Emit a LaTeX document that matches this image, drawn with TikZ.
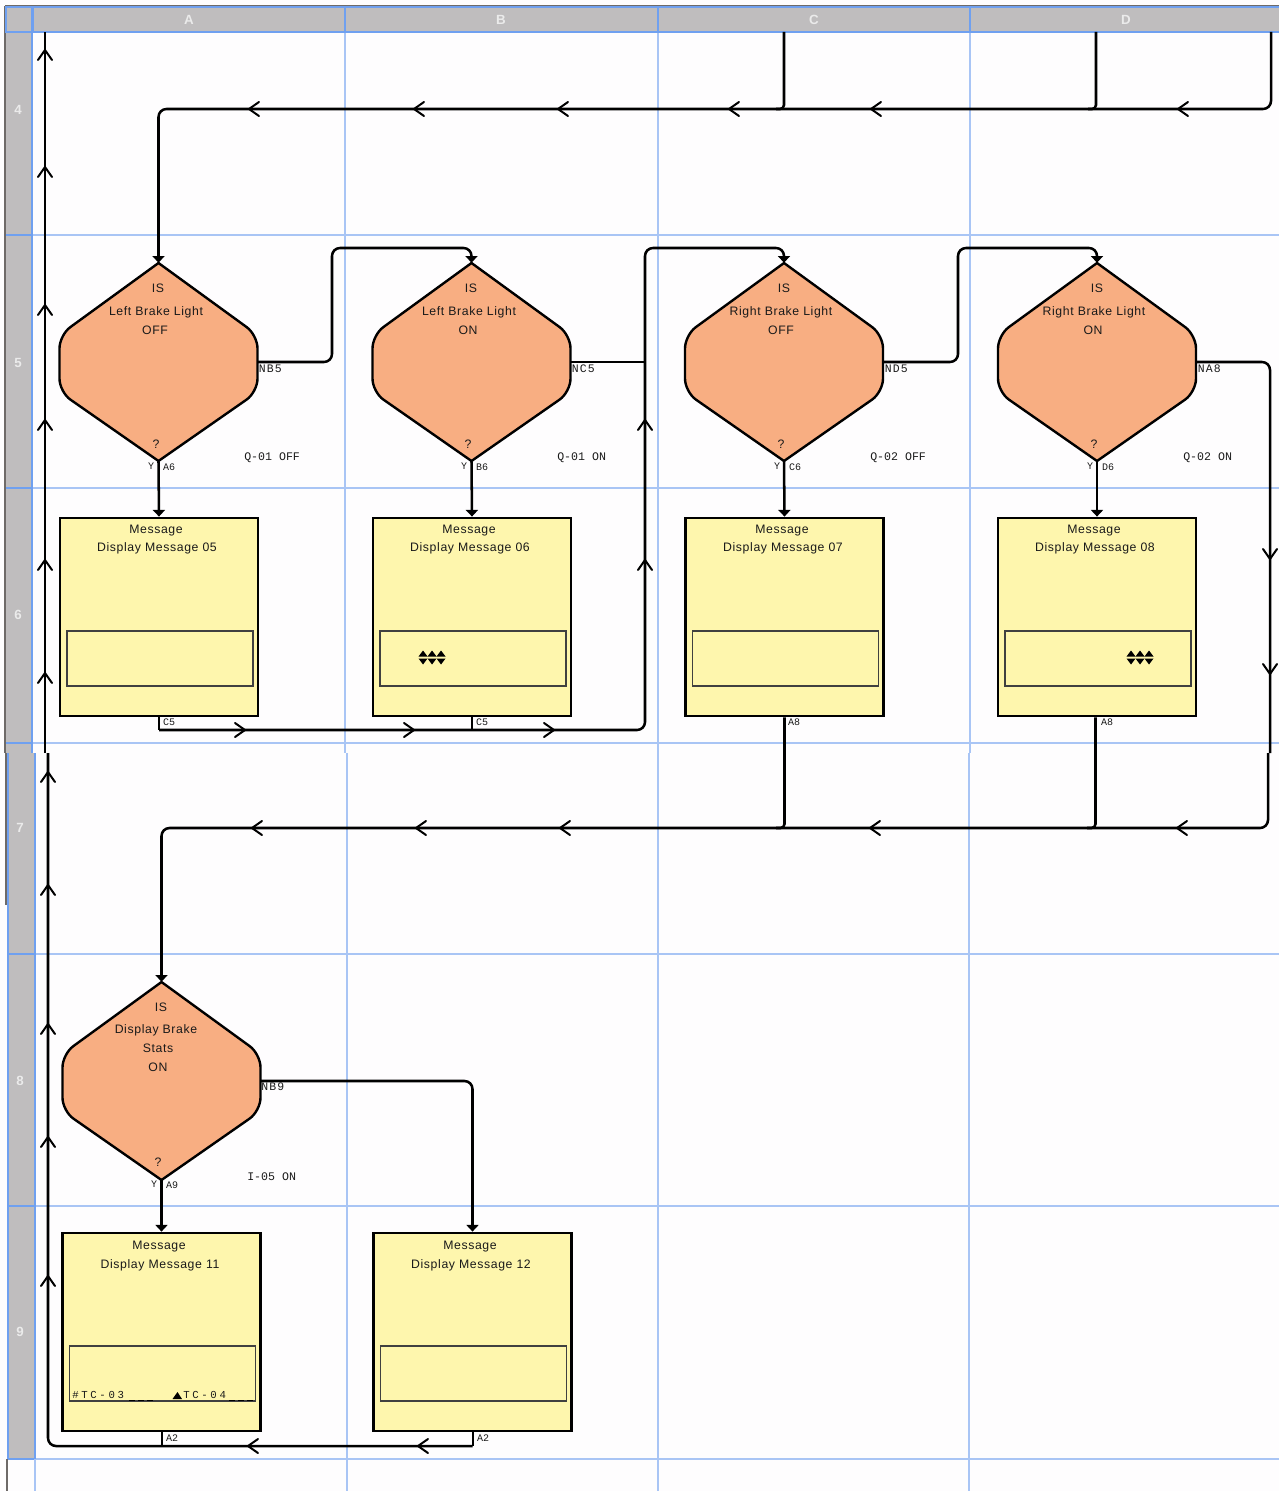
\documentclass[tikz,border=0pt]{standalone}
\usepackage{fontspec}
\setmainfont{Liberation Sans}
\newfontfamily\msgfont[LetterSpace=5]{Liberation Sans}
\newfontfamily\tagfont{Liberation Mono}
\newfontfamily\nbfont[LetterSpace=10]{Liberation Mono}
\newfontfamily\slotfont[LetterSpace=25]{Liberation Mono}
\usetikzlibrary{arrows.meta}
\definecolor{sheet}{HTML}{FEFDFE}
\definecolor{bandgrey}{HTML}{BFBDBE}
\definecolor{gridblue}{HTML}{A9C5F5}
\definecolor{gridstrong}{HTML}{6FA0F0}
\definecolor{peach}{HTML}{F8AE82}
\definecolor{pale}{HTML}{FEF6AD}
\definecolor{edge}{HTML}{6E6A68}
\definecolor{ink}{HTML}{1A1A1A}
\tikzset{
  x=0.75pt,y=-0.75pt,
  band/.style={fill=bandgrey,draw=none},
  grid/.style={draw=gridblue,line width=0.8pt},
  gridb/.style={draw=gridstrong,line width=1.3pt},
  wire/.style={draw=black,line width=1.9pt,rounded corners=6pt},
  stem/.style={draw=black,line width=1.5pt},
  into/.style={wire,-{Triangle[width=9pt,length=5pt]}},
  chev/.style={draw=black,line width=1.5pt,line cap=round},
  decision/.style={fill=peach,draw=black,line width=1.8pt,line join=miter},
  anchorbox/.style={inner sep=0pt,minimum width=148.5pt,minimum height=148.5pt},
  msgbox/.style={anchorbox,fill=pale,draw=black,line width=2.1pt},
  slot/.style={fill=pale,draw=black!75,line width=0.8pt},
  msgtext/.style={font=\msgfont\fontsize{9.2pt}{10pt}\selectfont,text=ink,inner sep=0pt},
  tagtext/.style={font=\tagfont\fontsize{7.5pt}{8pt}\selectfont,text=ink,inner sep=0pt},
  nbtext/.style={font=\nbfont\fontsize{8.6pt}{9pt}\selectfont,text=ink,inner sep=0pt},
  qtext/.style={font=\tagfont\fontsize{8.7pt}{9pt}\selectfont,text=ink,inner sep=0pt},
  slottext/.style={font=\slotfont\fontsize{8pt}{9pt}\selectfont,text=ink,inner sep=0pt},
  headtext/.style={font=\bfseries\fontsize{10pt}{10pt}\selectfont,text=white!92!black,inner sep=0pt},
}
\newcounter{tn}
\newcommand\lbl[4]{\stepcounter{tn}\node[#1] (t\arabic{tn}) at (#2,#3) {#4};}
\newcommand\chL[2]{\draw[chev] (#1+10,#2-7) -- (#1,#2) -- (#1+10,#2+7);}
\newcommand\chR[2]{\draw[chev] (#1-10,#2-7) -- (#1,#2) -- (#1-10,#2+7);}
\newcommand\chU[2]{\draw[chev] (#1-7,#2+10) -- (#1,#2) -- (#1+7,#2+10);}
\newcommand\chD[2]{\draw[chev] (#1-7,#2-10) -- (#1,#2) -- (#1+7,#2-10);}
% name, centre x, centre y
\newcommand\dia[3]{
  \draw[decision] (#2,#3-99) [rounded corners=10pt] -- (#2+99,#3-27) -- (#2+99,#3+30)
     [sharp corners] -- (#2,#3+99) [rounded corners=10pt]
     -- (#2-99,#3+30) -- (#2-99,#3-27) [sharp corners] -- cycle;
  \node[anchorbox] (#1) at (#2,#3) {};
}
% name, centre x, centre y
\newcommand\msg[3]{
  \node[msgbox] (#1) at (#2,#3) {};
  \draw[slot] (#2-92,#3+14) rectangle (#2+94,#3+69);
}
% little up/down triangle pair
\newcommand\updn[2]{
  \fill (#1-4.5,#2-1) -- (#1,#2-7) -- (#1+4.5,#2-1) -- cycle;
  \fill (#1-4.5,#2+1) -- (#1,#2+7) -- (#1+4.5,#2+1) -- cycle;
}
\begin{document}
\begin{tikzpicture}
\useasboundingbox (0,0) rectangle (1279,1491);
\fill[sheet] (0,0) rectangle (1279,1491);
% ===== top sheet bands
\fill[band] (6,7) rectangle (1279,32);
\fill[band] (6,32) rectangle (32,753);
\draw[edge,line width=0.8pt] (5,6) -- (1279,6);
\draw[edge,line width=0.8pt] (5,6) -- (5,753);
% top sheet grid
\foreach \yy in {235,743} \draw[grid] (6,\yy) -- (1279,\yy);
\draw[grid,line width=1.2pt] (6,488) -- (1279,488);
\foreach \xx in {345,658,970} {\draw[grid] (\xx,32) -- (\xx,753); \draw[gridb] (\xx,7) -- (\xx,32);}
\draw[gridb] (6,32) -- (1279,32);
\draw[gridb] (33,7) -- (1279,7);
\draw[gridb] (6,7) rectangle (32,32);
\draw[gridb,line width=2pt] (32.5,7) -- (32.5,32);
\draw[gridb] (32,32) -- (32,753);
\draw[gridb] (6,235) -- (32,235);
\draw[gridb] (6,488) -- (32,488);
\draw[gridb] (6,743) -- (32,743);
% ===== bottom sheet
\fill[sheet] (0,753) rectangle (1279,1491);
\fill[band] (8,753) rectangle (34,1459);
\draw[edge,line width=0.8pt] (6,753) -- (6,905);
\draw[edge,line width=0.8pt] (7,1459) -- (7,1491);
\foreach \yy in {954,1206} \draw[grid] (34,\yy) -- (1279,\yy);
\draw[gridb] (8,954) -- (34,954);
\draw[gridb] (8,1206) -- (34,1206);
\draw[grid,line width=1.2pt] (34,1459) -- (1279,1459);
\draw[gridb] (8,1459) -- (34,1459);
\foreach \xx in {347,658,969} \draw[grid] (\xx,753) -- (\xx,1491);
\draw[grid] (35,1459) -- (35,1491);
\draw[gridb] (35,753) -- (35,1459);
\draw[gridb] (8,753) -- (8,1459);
% headers
\lbl{headtext}{189}{19.5}{A}
\lbl{headtext}{501}{19.5}{B}
\lbl{headtext}{814}{19.5}{C}
\lbl{headtext}{1126}{19.5}{D}
\lbl{headtext}{18}{110}{4}
\lbl{headtext}{18}{363}{5}
\lbl{headtext}{18}{615}{6}
\lbl{headtext}{20}{828}{7}
\lbl{headtext}{20}{1081}{8}
\lbl{headtext}{20}{1332}{9}
% ===== shapes
\dia{d1}{158.5}{362}
\dia{d2}{471.5}{362}
\dia{d3}{784}{362}
\dia{d4}{1097}{362}
\dia{d5}{161.5}{1081}
\msg{m1}{159}{617}
\msg{m2}{472}{617}
\msg{m3}{784.5}{617}
\msg{m4}{1097}{617}
\msg{m5}{161.5}{1332}
\msg{m6}{472.5}{1332}
% ===== free ends
\coordinate (topC) at (784,32);
\coordinate (topD) at (1096,32);
\coordinate (topE) at (1271,32);
\coordinate (topL) at (45,32);
\coordinate (seamL) at (45,753);
\coordinate (seamL2) at (48,753);
\coordinate (seamR) at (1270,753);
\coordinate (seamR2) at (1268,753);
\coordinate (joinA) at (159,730);
\coordinate (joinB) at (472,730);
\coordinate (joinC) at (472.5,1446);
\coordinate (joinD) at (161.5,1446);
% ===== wires, top sheet
\draw[into] (topE) -- (1271,109) -- (158.5,109) -- (d1.north);
\draw[wire,rounded corners=3pt] (topC) -- (784,109) -- (776,109);
\draw[wire,rounded corners=3pt] (topD) -- (1096,109) -- (1088,109);
\draw[wire] (seamL) -- (topL);
\draw[into] (d1.east) -- (332,362) -- (332,248) -- (471.5,248) -- (d2.north);
\draw[wire] (d2.east) -- (645,362);
\draw[stem] (m1.south) -- (joinA);
\draw[stem] (m2.south) -- (joinB);
\draw[into] (joinA) -- (645,730) -- (645,248) -- (784,248) -- (d3.north);
\draw[into] (d3.east) -- (958,362) -- (958,248) -- (1097,248) -- (d4.north);
\draw[wire] (d4.east) -- (1270,362) -- (seamR);
\foreach \a/\b in {d1/m1,d2/m2,d3/m3,d4/m4,d5/m5} \draw[into] (\a.south) -- (\b.north);
% ===== wires, bottom sheet
\draw[into] (seamR2) -- (1268,828) -- (161.5,828) -- (d5.north);
\draw[wire,rounded corners=3pt] (m3.south) -- (784.5,828) -- (776,828);
\draw[wire,rounded corners=3pt] (m4.south) ++(-1.5,0) -- (1095.5,828) -- (1087,828);
\draw[wire] (seamL2) -- (48,1446) -- (joinC);
\draw[stem] (m6.south) -- (joinC);
\draw[stem] (m5.south) -- (joinD);
\draw[into] (d5.east) -- (472.5,1081) -- (m6.north);
% ===== chevrons
\foreach \xx in {1178,871,729,558,414,249} {\chL{\xx}{109}}
\foreach \xx in {1177,870,560,416,252} {\chL{\xx}{828}}
\foreach \xx in {418,248} {\chL{\xx}{1446}}
\foreach \yy in {50,167,305,420,560,673} {\chU{45}{\yy}}
\foreach \yy in {772,885,1024,1137,1276} {\chU{48}{\yy}}
\foreach \yy in {420,560} {\chU{645}{\yy}}
\foreach \xx in {245,414,554} {\chR{\xx}{730}}
\foreach \yy in {559,674} {\chD{1270}{\yy}}
% ===== decision text
\lbl{msgtext}{158}{288}{IS}
\lbl{msgtext}{156}{312.5}{Left Brake Light}
\lbl{msgtext}{155}{330}{OFF}
\lbl{msgtext}{156}{444}{?}
\lbl{msgtext}{471}{288}{IS}
\lbl{msgtext}{469}{312.5}{Left Brake Light}
\lbl{msgtext}{468}{330}{ON}
\lbl{msgtext}{468}{444}{?}
\lbl{msgtext}{784}{288}{IS}
\lbl{msgtext}{781}{312.5}{Right Brake Light}
\lbl{msgtext}{781}{330}{OFF}
\lbl{msgtext}{781}{444}{?}
\lbl{msgtext}{1097}{288}{IS}
\lbl{msgtext}{1094}{312.5}{Right Brake Light}
\lbl{msgtext}{1093}{330}{ON}
\lbl{msgtext}{1094}{444}{?}
\lbl{msgtext}{161}{1007}{IS}
\lbl{msgtext}{156}{1030}{Display Brake}
\lbl{msgtext}{158}{1048}{Stats}
\lbl{msgtext}{158}{1067}{ON}
\lbl{msgtext}{158}{1162}{?}
% ===== message text
\lbl{msgtext}{156}{530.5}{Message}
\lbl{msgtext}{157}{548.5}{Display Message 05}
\lbl{msgtext}{469}{530.5}{Message}
\lbl{msgtext}{470}{548.5}{Display Message 06}
\lbl{msgtext}{782}{530.5}{Message}
\lbl{msgtext}{783}{548.5}{Display Message 07}
\lbl{msgtext}{1094}{530.5}{Message}
\lbl{msgtext}{1095}{548.5}{Display Message 08}
\lbl{msgtext}{159}{1247}{Message}
\lbl{msgtext}{160}{1265}{Display Message 11}
\lbl{msgtext}{470}{1247}{Message}
\lbl{msgtext}{471}{1265}{Display Message 12}
% ===== tags
\foreach \xx/\a/\b/\c in {158/A6/NB5/Q-01 OFF,471/B6/NC5/Q-01 ON,784/C6/ND5/Q-02 OFF,1097/D6/NA8/Q-02 ON}{
  \lbl{tagtext}{\xx-7}{466}{Y}
  \lbl{tagtext}{\xx+11}{467}{\a}
  \lbl{nbtext,anchor=west}{\xx+100.5}{369}{\b}
  \lbl{qtext,anchor=west}{\xx+86}{457.5}{\c}
}
\lbl{tagtext}{154}{1184}{Y}
\lbl{tagtext}{172}{1185}{A9}
\lbl{nbtext,anchor=west}{261}{1087}{NB9}
\lbl{qtext,anchor=west}{247}{1176.5}{I-05 ON}
\lbl{tagtext}{169}{722}{C5}
\lbl{tagtext}{482}{722}{C5}
\lbl{tagtext}{794}{722}{A8}
\lbl{tagtext}{1107}{722}{A8}
\lbl{tagtext}{172}{1438}{A2}
\lbl{tagtext}{483}{1438}{A2}
% ===== slot contents
\foreach \xx in {423,432,441} {\updn{\xx}{657.5}}
\foreach \xx in {1131,1140,1149} {\updn{\xx}{657.5}}
\lbl{slottext,anchor=west}{72}{1395}{\#TC-03}
\lbl{slottext,anchor=west}{183}{1395}{TC-04}
\fill (172.5,1399) -- (177.5,1392) -- (182,1399) -- cycle;
\foreach \xx in {129,138,147,229,238,247} \draw[line width=1.4pt] (\xx,1400.5) -- (\xx+6,1400.5);
\end{tikzpicture}
\end{document}
